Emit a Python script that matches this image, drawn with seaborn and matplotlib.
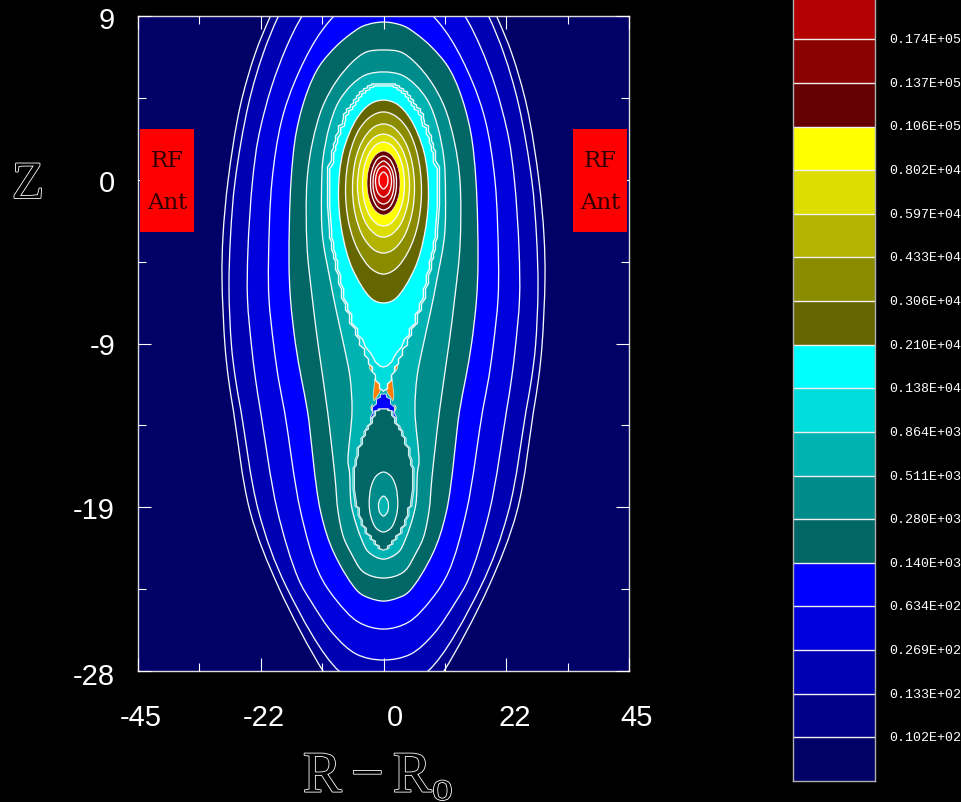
import numpy as np
import matplotlib
matplotlib.use("Agg")
import matplotlib.pyplot as plt
import matplotlib.patheffects as pe
from matplotlib.colors import ListedColormap
from matplotlib.patches import PathPatch, Polygon, Rectangle
from matplotlib.path import Path
from matplotlib.transforms import ScaledTranslation
import seaborn as sns

# ---- colour bar -------------------------------------------------------
level_labels = ["0.219E+05", "0.174E+05", "0.137E+05", "0.106E+05", "0.802E+04", "0.597E+04",
                "0.433E+04", "0.306E+04", "0.210E+04", "0.138E+04", "0.864E+03", "0.511E+03",
                "0.280E+03", "0.140E+03", "0.634E+02", "0.269E+02", "0.133E+02", "0.102E+02"]
band_colors = ["#b30000", "#8b0000", "#660000", "#ffff00", "#dddd00", "#b3b300",
               "#8b8b00", "#666600", "#00ffff", "#00dddd", "#00b3b3", "#008b8b",
               "#006666", "#0000ff", "#0000dd", "#0000b3", "#00008b", "#000066"]

# ---- smooth contours: Z stations and half width |R-Ro| --------------------
c01_z = [12.5, 11.1, 8.94, 6.85, 3.86, -0.32, -3.43, -5.86, -9.64, -11.51, -13.32, -18.97, -23.26, -28.0, -29.58, -30.7]
c01_r = [0, 17.4, 20.8, 23.55, 26.3, 28.5, 29.42, 29.6, 29.05, 28.41, 27.5, 24.47, 19.24, 11.09, 7.3, 0]
c02_z = [12.25, 10.81, 8.94, 6.85, 4.03, -0.32, -3.43, -6.42, -9.64, -11.51, -13.32, -18.97, -23.26, -28.0, -28.74, -29.0]
c02_r = [0, 16.1, 19.34, 22.09, 24.74, 27.2, 28.04, 28.32, 27.86, 27.13, 26.12, 22.91, 17.78, 8.16, 3.0, 0]
c03_z = [11.66, 9.96, 8.94, 7.25, 4.99, 2.16, -0.32, -4.16, -6.99, -9.64, -11.51, -13.32, -18.97, -22.81, -24.11, -25.92, -27.05, -27.38]
c03_r = [0, 12.5, 15.03, 17.78, 20.53, 22.91, 24.01, 24.84, 24.93, 24.19, 23.46, 22.54, 19.43, 15.58, 13.20, 9.16, 4.95, 0]
c04_z = [10.41, 9.96, 8.94, 7.59, 5.33, 3.07, -0.32, -4.84, -6.99, -9.53, -11.51, -13.32, -18.97, -22.41, -23.94, -25.24, -25.63]
c04_r = [0, 5.5, 9.26, 12.55, 16.22, 18.69, 20.44, 21.08, 20.99, 20.15, 19.25, 18.15, 15.21, 11.91, 8.80, 4.58, 0]
c05_z = [8.66, 8.44, 7.98, 7.31, 6.18, 4.76, 2.50, -0.32, -4.90, -6.99, -9.53, -11.51, -13.32, -18.97, -21.40, -23.54, -23.88, -24.05]
c05_r = [0, 3.67, 6.05, 8.61, 11.73, 13.93, 15.95, 16.95, 17.32, 17.05, 16.13, 15.03, 13.93, 11.55, 8.98, 4.58, 2.57, 0]
c06_z = [7.08, 6.97, 6.46, 5.33, 3.86, 1.88, -0.32, -3.99, -6.82, -9.53, -13.32, -17.05, -18.97, -20.44, -21.28, -22.41, -22.75]
c06_r = [0, 3.12, 5.50, 8.61, 11.18, 13.01, 14.02, 14.02, 13.1, 12.0, 10.26, 8.89, 8.34, 7.33, 6.05, 3.67, 0]
c07_z = [5.84, 5.67, 5.10, 4.14, 2.79, 0.92, -0.94, -3.43, -5.86, -7.72, -9.64, -11.40, -13.32, -16.14, -16.76, -18.68, -20.55, -21.28, -21.68]
c07_r = [0, 3.30, 5.87, 8.25, 9.90, 11.09, 11.36, 11.18, 9.81, 8.61, 7.24, 6.14, 5.77, 6.51, 6.23, 5.87, 4.03, 2.75, 0]
c10_z = [4.25, 4.03, 3.18, 1.32, -0.94, -3.20, -5.29, -6.99, -7.21]
c10_r = [0, 2.44, 4.95, 7.42, 8.25, 7.60, 5.68, 2.11, 0]
c11_z = [3.58, 3.35, 2.62, 1.20, -0.77, -2.75, -4.28, -5.29, -5.58]
c11_r = [0, 2.20, 4.40, 6.20, 6.96, 6.32, 4.58, 2.20, 0]
c12_z = [2.90, 2.73, 2.05, 0.92, -0.66, -2.19, -3.49, -4.22, -4.39]
c12_r = [0, 1.74, 3.67, 5.10, 5.68, 5.19, 3.70, 1.69, 0]
c13_z = [2.33, 2.16, 1.60, 0.64, -0.55, -1.73, -2.81, -3.37, -3.49]
c13_r = [0, 1.61, 3.17, 4.34, 4.77, 4.36, 3.04, 1.30, 0]
c14_z = [1.88, 1.71, 1.20, 0.47, -0.49, -1.45, -2.30, -2.75, -2.86]
c14_r = [0, 1.43, 2.69, 3.52, 3.85, 3.52, 2.49, 1.17, 0]
c15_z = [1.37, 1.20, 0.75, 0.19, -0.44, -1.06, -1.62, -2.07, -2.24]
c15_r = [0, 1.27, 2.27, 2.84, 3.02, 2.84, 2.27, 1.27, 0]
c16_z = [1.09, 0.92, 0.53, 0.02, -0.44, -0.89, -1.40, -1.79, -1.96]
c16_r = [0, 1.09, 1.83, 2.29, 2.38, 2.29, 1.83, 1.09, 0]
c17_z = [0.81, 0.64, 0.36, -0.03, -0.44, -0.83, -1.23, -1.51, -1.62]
c17_r = [0, 0.85, 1.47, 1.83, 1.92, 1.83, 1.47, 0.85, 0]
c18_z = [0.53, 0.36, 0.08, -0.32, -0.77, -1.06, -1.23]
c18_r = [0, 0.86, 1.28, 1.47, 1.28, 0.86, 0]
c19_z = [0.19, -0.03, -0.29, -0.54, -0.77]
c19_r = [0, 0.70, 0.82, 0.70, 0]
low1_z = [-16.76, -16.99, -17.61, -18.57, -19.31, -19.93, -20.15]
low1_r = [0, 1.35, 2.29, 2.62, 2.29, 1.35, 0]
low2_z = [-18.12, -18.34, -18.68, -19.03, -19.25]
low2_r = [0, 0.70, 0.92, 0.70, 0]

# ---- staircase contours on the coarse grid -----------------------------
c08_z = [5.16, 5.05, 4.88, 4.71, 4.48, 4.25, 3.97, 3.75, 3.46, 3.07, 2.79, 2.22, 1.77, 1.37, 0.47,
         -3.15, -3.77, -4.45, -4.84, -5.63, -6.42, -7.27, -7.84, -8.68, -9.25, -9.81, -10.38,
         -10.83, -11.28, -11.79, -12.19]
c08_r = [2.20, 2.93, 3.67, 4.40, 4.95, 5.50, 6.05, 6.78, 7.33, 7.51, 8.25, 8.80, 9.16, 9.53, 10.26,
         9.90, 9.53, 9.16, 8.80, 8.25, 7.70, 6.96, 6.23, 5.13, 4.40, 3.48, 2.75,
         2.02, 1.47, 0.73, 0]
c09_z = [5.05, 4.94, 4.77, 4.60, 4.37, 4.14, 3.86, 3.64, 3.35, 2.96, 2.68, 2.11, 1.66, 1.26, 0.36,
         -3.15, -3.77, -4.45, -4.84, -5.63, -6.42, -7.27, -7.84, -8.68, -9.25]
c09_r = [1.80, 2.53, 3.27, 4.00, 4.55, 5.10, 5.65, 6.38, 6.93, 7.11, 7.85, 8.40, 8.76, 9.13, 9.86,
         9.50, 9.13, 8.76, 8.40, 7.85, 7.30, 6.56, 5.83, 4.73, 3.85]
c09_tail_z = [-9.70, -10.04, -10.27, -10.55, -10.77, -10.83]
c09_tail_r = [3.30, 2.38, 1.92, 1.47, 0.64, 0]
lobe_z = [-13.20, -13.32, -13.72, -14.17, -14.45, -14.85, -15.41, -16.09, -16.54,
          -18.51, -18.80, -19.48, -19.93, -20.38, -20.66, -20.94, -21.17]
lobe_r = [0.73, 1.47, 2.02, 2.75, 3.30, 3.85, 4.58, 4.95, 5.32,
          4.95, 4.40, 3.85, 3.12, 2.20, 1.47, 0.73, 0]
lobe_outer_r = [1.0, 1.75, 2.3, 3.03, 3.58, 4.13, 4.86, 5.23, 5.6,
                5.23, 4.68, 4.13, 3.40, 2.48, 1.75, 1.0, 0]
cap_z = [-12.36, -12.64, -13.09, -13.66, -14.33, -14.90]
cap_r = [0.55, 1.28, 2.02, 2.38, 3.30, 0]
orange_z = [-11.45, -11.62, -12.24, -12.75, -12.47]
orange_r = [1.56, 0.64, 0.64, 1.74, 1.92]
sliver_z = [-10.50, -10.85, -11.10]
sliver_r = [2.20, 2.65, 2.20]
sliver2_z = [-12.92, -13.12, -13.32]
sliver2_r = [2.05, 2.35, 2.15]

# ---- antennas and axes --------------------------------------------------
ant_r = [34.73, 44.70]
ant_z = [-3.20, 2.62]
xticks_major = [-45, -22.5, 0, 22.5, 45]
xticks_minor = [-33.75, -11.25, 11.25, 33.75]
xtick_labels = ["-45", "-22", "0", "22", "45"]
yticks_major = [9, -0.25, -9.5, -18.75, -28]
yticks_minor = [4.375, -4.875, -14.125, -23.375]
ytick_labels = ["9", "0", "-9", "-19", "-28"]

sns.set_theme(style="dark")
plt.rcParams.update({"figure.facecolor": "black", "savefig.facecolor": "black",
                     "axes.facecolor": "#000066", "text.color": "white",
                     "mathtext.fontset": "custom", "mathtext.rm": "Liberation Serif",
                     "mathtext.it": "Liberation Serif", "mathtext.default": "rm"})

W, H = 961, 803
fig = plt.figure(figsize=(W / 100, H / 100), dpi=100)
ax = fig.add_axes([138 / W, (H - 672) / H, 491 / W, 655 / H])
ax.set_xlim(-45, 45)
ax.set_ylim(-28, 9)
ax.set_axisbelow(False)
EDGE = "#f4f8f8"
SX, SY = 491 / 90, 655 / 37   # screen size of one data unit, for spline spacing


def mirrored(z, r):
    z = np.asarray(z, float)
    r = np.asarray(r, float)
    return np.r_[r, -r[::-1][1:-1]], np.r_[z, z[::-1][1:-1]]


def smooth(z, r, color, lw=0.95):
    """Closed centripetal spline through the stations, as cubic Bezier segments."""
    xs, ys = mirrored(z, r)
    p = np.c_[xs, ys]
    n = len(p)
    scr = p * [SX, SY]
    d = np.sqrt(np.hypot(*(np.roll(scr, -1, axis=0) - scr).T))  # knot spacing i -> i+1
    tan = np.zeros_like(p)
    for i in range(n):
        d0, d1 = d[i - 1], d[i]
        a, b, c = p[i - 1], p[i], p[(i + 1) % n]
        tan[i] = (b - a) / d0 - (c - a) / (d0 + d1) + (c - b) / d1
    verts, codes = [p[0]], [Path.MOVETO]
    for i in range(n):
        j = (i + 1) % n
        verts += [p[i] + tan[i] * d[i] / 3, p[j] - tan[j] * d[i] / 3, p[j]]
        codes += [Path.CURVE4] * 3
    ax.add_patch(PathPatch(Path(verts, codes), facecolor=color, edgecolor=EDGE, lw=lw))


def stair_xy(z, r):
    """Chamfered staircase joining the stations."""
    out = []
    for i in range(len(z) - 1):
        zm = z[i] + 0.6 * (z[i + 1] - z[i])
        out += [(r[i], z[i]), (r[i], zm)]
    out.append((r[-1], z[-1]))
    return out


def closed(right, color, lw=0.9, edge=EDGE):
    right = np.asarray(right, float)
    left = right[::-1] * [-1, 1]
    ax.add_patch(Polygon(np.r_[right, left], closed=True, facecolor=color, edgecolor=edge, lw=lw))


smooth(c01_z, c01_r, "#00008b")
smooth(c02_z, c02_r, "#0000b3")
smooth(c03_z, c03_r, "#0000dd")
smooth(c04_z, c04_r, "#0000ff")
smooth(c05_z, c05_r, "#006666")
smooth(c06_z, c06_r, "#008b8b")
smooth(c07_z, c07_r, "#00b3b3")

for zs, rs in ((orange_z, orange_r), (sliver_z, sliver_r), (sliver2_z, sliver2_r)):
    for sgn in (1, -1):
        ax.add_patch(Polygon(np.c_[sgn * np.asarray(rs), zs], closed=True, facecolor="#ff7f00",
                             edgecolor="#cfeeee", lw=0.5))
closed(stair_xy(cap_z, cap_r), "#0000ff", lw=0.7, edge="#cfe0ee")

closed(stair_xy(c08_z, c08_r), "#00dddd", lw=1.0)
closed(stair_xy(c09_z, c09_r) + list(zip(c09_tail_r, c09_tail_z)), "#00ffff", lw=1.0)
closed(stair_xy(lobe_z, lobe_outer_r), "#00dddd", lw=0.8, edge="#d8e8e8")
closed(stair_xy(lobe_z, lobe_r), "#006666", lw=0.8, edge="#d8e8e8")
smooth(low1_z, low1_r, "#008b8b", lw=0.9)
smooth(low2_z, low2_r, "#00b3b3", lw=0.9)

smooth(c10_z, c10_r, "#666600")
smooth(c11_z, c11_r, "#8b8b00")
smooth(c12_z, c12_r, "#b3b300")
smooth(c13_z, c13_r, "#dddd00")
smooth(c14_z, c14_r, "#ffff00")
smooth(c15_z, c15_r, "#660000", lw=0.4)
smooth(c16_z, c16_r, "#8b0000")
smooth(c17_z, c17_r, "#b30000")
smooth(c18_z, c18_r, "#dd0000")
smooth(c19_z, c19_r, "#ff0000")

for sgn in (-1, 1):
    x0 = min(sgn * ant_r[0], sgn * ant_r[1])
    ax.add_patch(Rectangle((x0, ant_z[0]), ant_r[1] - ant_r[0], ant_z[1] - ant_z[0],
                           facecolor="#ff0000", edgecolor="none", zorder=3))
    xc = sgn * (ant_r[0] + ant_r[1]) / 2
    ax.text(xc, 0.84, "RF", color="#300000", family="DejaVu Serif", size=16.5,
            ha="center", va="center", zorder=4)
    ax.text(xc, -1.48, "Ant", color="#300000", family="DejaVu Serif", size=16.5,
            ha="center", va="center", zorder=4)

ax.set_xticks(xticks_major)
ax.set_xticks(xticks_minor, minor=True)
ax.set_xticklabels(xtick_labels, family="Liberation Sans", size=21, color="white")
ax.set_yticks(yticks_major)
ax.set_yticks(yticks_minor, minor=True)
ax.set_yticklabels(ytick_labels, family="Liberation Sans", size=21, color="white")
ax.tick_params(which="major", direction="in", length=9.2, width=0.8, color="white",
               top=True, right=True, bottom=True, left=True)
ax.tick_params(which="minor", direction="in", length=6, width=0.8, color="white",
               top=True, right=True, bottom=True, left=True)
ax.tick_params(axis="x", which="major", pad=23.3)
ax.tick_params(axis="y", which="major", pad=16.5)
for lab, dx in zip(ax.get_xticklabels(), (3, 3.5, 11.5, 8, 8)):
    lab.set_transform(lab.get_transform() + ScaledTranslation(dx / 100, 0, fig.dpi_scale_trans))
for lab, dy in zip(ax.get_yticklabels(), (-1, 0, 0, 0, -2)):
    lab.set_transform(lab.get_transform() + ScaledTranslation(0, dy / 100, fig.dpi_scale_trans))
for s in ax.spines.values():
    s.set_color("#dcdcdc")
    s.set_linewidth(1.0)
    s.set_visible(True)

hollow = [pe.Stroke(linewidth=1.2, foreground="white"), pe.Normal()]
ax.set_ylabel("Z", rotation=0, family="Liberation Serif", size=38, color="black",
              path_effects=hollow, ha="center", va="center")
ax.yaxis.set_label_coords((28 - 138) / 491, (672 - 186) / 655)
ax.set_xlabel(r"$\mathrm{R-R_o}$", size=42, color="black", path_effects=hollow,
              ha="center", va="baseline")
ax.xaxis.set_label_coords((378 - 138) / 491, (672 - 793) / 655)

# ---- colour bar through seaborn ------------------------------------------
n = len(band_colors)
cax = fig.add_axes([793 / W, (H - 782) / H, 82 / W, 785.4 / H])
sns.heatmap(np.arange(n).reshape(n, 1), cmap=ListedColormap(band_colors), cbar=False,
            ax=cax, xticklabels=False, yticklabels=False, vmin=-0.5, vmax=n - 0.5)
cax.hlines(np.arange(n), 0, 1, color="#f0f0f0", lw=1.0)
cax.yaxis.tick_right()
cax.set_yticks(np.arange(n))
cax.set_yticklabels(level_labels, family="Liberation Mono", size=9.6, color="white",
                    rotation=0, va="center")
cax.tick_params(axis="y", length=0, pad=10.5, right=False, left=False)
for s in cax.spines.values():
    s.set_visible(True)
    s.set_color("#b0b0b0")
    s.set_linewidth(1.0)

fig.savefig("out.png", dpi=100, facecolor="black")
